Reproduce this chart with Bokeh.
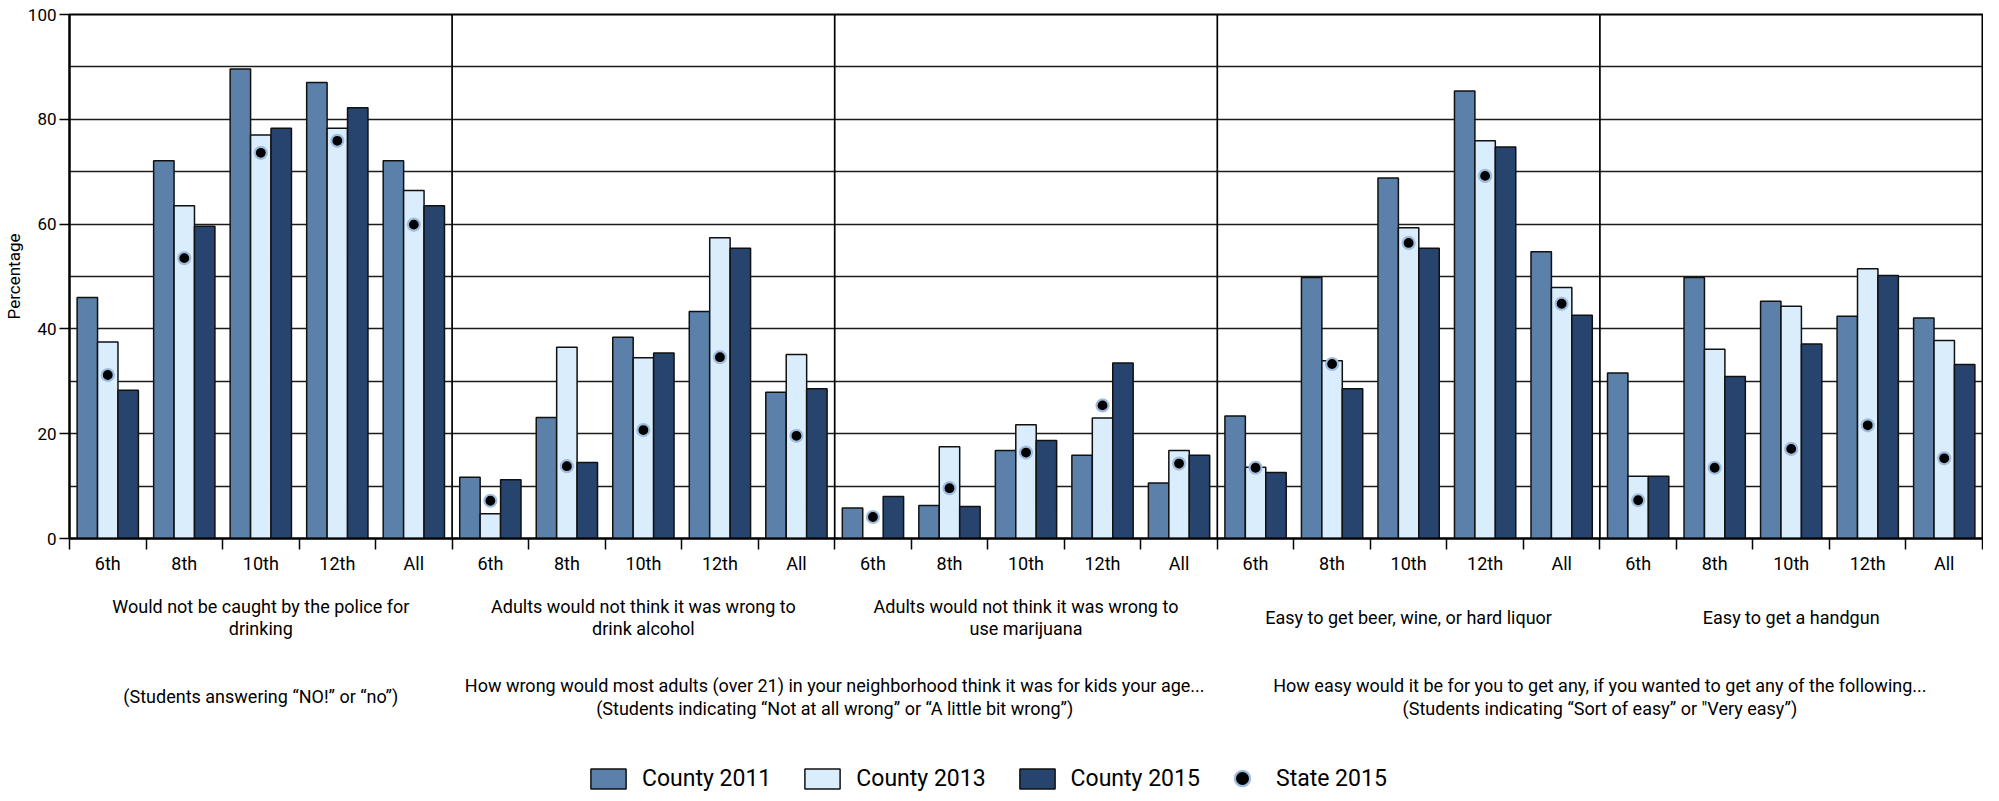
import numpy as np
from bokeh.plotting import figure
from bokeh.layouts import column
from bokeh.models import (FactorRange, ColumnDataSource, LinearAxis, CategoricalAxis, FixedTicker,
                          SingleIntervalTicker, Span, Legend, LegendItem, Range1d)
from bokeh.core.properties import value
from bokeh.transform import dodge
from bokeh.embed import file_html
from bokeh.resources import INLINE

nan = float("nan")

# ---------------- data ----------------
groups = ["police", "alcohol", "marijuana", "liquor", "handgun"]
grades = ["6th", "8th", "10th", "12th", "All"]

county_2011 = [46.0, 72.1, 89.6, 87.0, 72.1,
               11.7, 23.1, 38.4, 43.3, 27.9,
               5.8, 6.3, 16.8, 15.9, 10.6,
               23.4, 49.8, 68.8, 85.4, 54.7,
               31.6, 49.8, 45.3, 42.4, 42.1]
county_2013 = [37.5, 63.5, 77.0, 78.3, 66.4,
               4.7, 36.5, 34.5, 57.4, 35.1,
               nan, 17.5, 21.7, 23.0, 16.8,
               13.6, 33.9, 59.3, 75.9, 47.9,
               11.9, 36.1, 44.3, 51.5, 37.8]
county_2015 = [28.3, 59.6, 78.3, 82.2, 63.5,
               11.2, 14.5, 35.4, 55.4, 28.6,
               8.0, 6.1, 18.7, 33.5, 15.9,
               12.6, 28.6, 55.4, 74.7, 42.6,
               11.9, 30.9, 37.1, 50.2, 33.2]
state_2015 = [31.2, 53.5, 73.6, 75.9, 59.9,
              7.2, 13.8, 20.7, 34.6, 19.6,
              4.1, 9.6, 16.4, 25.4, 14.3,
              13.5, 33.3, 56.4, 69.2, 44.8,
              7.3, 13.5, 17.1, 21.6, 15.3]

series_labels = ["County 2011", "County 2013", "County 2015", "State 2015"]

group_titles = [
    ["Would not be caught by the police for", "drinking"],
    ["Adults would not think it was wrong to", "drink alcohol"],
    ["Adults would not think it was wrong to", "use marijuana"],
    ["Easy to get beer, wine, or hard liquor"],
    ["Easy to get a handgun"],
]
# (first group, last group, lines)
group_notes = [
    (0, 0, ["(Students answering \u201cNO!\u201d or \u201cno\u201d)"]),
    (1, 2, ["How wrong would most adults (over 21) in your neighborhood think it was for kids your age...",
            "(Students indicating \u201cNot at all wrong\u201d or \u201cA little bit wrong\u201d)"]),
    (3, 4, ["How easy would it be for you to get any, if you wanted to get any of the following...",
            "(Students indicating \u201cSort of easy\u201d or \"Very easy\u201d)"]),
]

y_label = "Percentage"

# ---------------- style ----------------
FONT = "Roboto"
C11 = "#5B80A9"
C13 = "#DAEDFC"
C15 = "#26446E"
EDGE = "#111111"
DOT_EDGE = "#9FBCDD"
W_FIG = 1983
LEFT = 65

factors = [(g, gr) for g in groups for gr in grades]
n_per = len(grades)

src = ColumnDataSource(dict(
    x=factors,
    c11=np.array(county_2011, dtype=float),
    c13=np.array(county_2013, dtype=float),
    c15=np.array(county_2015, dtype=float),
    st=np.array(state_2015, dtype=float),
))

xr = FactorRange(*factors, factor_padding=0, group_padding=0, range_padding=0)

p = figure(width=W_FIG, height=583, x_range=xr, y_range=Range1d(0, 100),
           output_backend="svg", toolbar_location=None, x_axis_location=None,
           min_border_left=LEFT, min_border_right=1, min_border_top=14, min_border_bottom=45)

p.outline_line_color = "black"
p.outline_line_width = 2
p.background_fill_color = "white"
p.border_fill_color = "white"

# y axis
yax = p.yaxis[0]
yax.ticker = SingleIntervalTicker(interval=20, num_minor_ticks=0)
yax.axis_line_color = "black"
yax.axis_line_width = 2
yax.major_tick_out = 10
yax.major_tick_in = 0
yax.major_tick_line_width = 1.5
yax.minor_tick_line_color = None
yax.major_label_standoff = 3
yax.major_label_text_font = FONT
yax.major_label_text_font_size = "17px"
yax.major_label_text_color = "black"
yax.axis_label = y_label
yax.axis_label_text_font = FONT
yax.axis_label_text_font_size = "17px"
yax.axis_label_text_font_style = "normal"
yax.axis_label_text_color = "black"
yax.axis_label_standoff = 1

p.ygrid.ticker = SingleIntervalTicker(interval=10)
p.ygrid.grid_line_color = "#1c1c1c"
p.ygrid.grid_line_width = 1.7
for g in p.xgrid:
    g.visible = False

# tick-mark axis at category boundaries
tick_axis = LinearAxis(ticker=FixedTicker(ticks=list(range(len(factors) + 1))),
                       major_label_text_font_size="0px", major_label_standoff=0,
                       major_tick_out=11, major_tick_in=0, major_tick_line_width=1.5,
                       major_tick_line_color="black", minor_tick_line_color=None,
                       axis_line_color="black", axis_line_width=2)
p.add_layout(tick_axis, "below")

cat_axis = CategoricalAxis(axis_line_color=None, major_tick_line_color=None,
                           minor_tick_line_color=None, major_label_standoff=-3,
                           major_label_text_font=FONT, major_label_text_font_size="18px",
                           major_label_text_color="black",
                           group_text_font_size="0px", group_text_color=None,
                           separator_line_color=None)
p.add_layout(cat_axis, "below")

# group separators
for i in range(1, len(groups)):
    p.add_layout(Span(location=i * n_per, dimension="height", line_color="black",
                      line_width=1.7, level="underlay"))

w = 0.267
bar_styles = [("c11", -w, C11), ("c13", 0, C13), ("c15", w, C15)]
for col, off, colr in bar_styles:
    p.vbar(x=dodge("x", off, range=xr), top=col, width=w, source=src,
           fill_color=colr, line_color=EDGE, line_width=1.5)
p.scatter(x="x", y="st", size=12, source=src, fill_color="black",
          line_color=DOT_EDGE, line_width=2.2)

# ---------------- text / legend panel below ----------------
H2 = 210
p2 = figure(width=W_FIG, height=H2, x_range=xr, y_range=Range1d(H2, 0),
            output_backend="svg", toolbar_location=None,
            x_axis_location=None, y_axis_location=None,
            min_border_left=LEFT, min_border_right=1, min_border_top=0, min_border_bottom=0)
p2.outline_line_color = None
p2.background_fill_color = "white"
p2.border_fill_color = "white"
for g in p2.grid:
    g.visible = False

tx, ty, tt = [], [], []
title_center, title_step = 34, 22
for gi, lines in enumerate(group_titles):
    cx = (gi + 0.5) * n_per
    k = len(lines)
    for li, line in enumerate(lines):
        tx.append(cx)
        ty.append(title_center + (li - (k - 1) / 2) * title_step)
        tt.append(line)
note_center, note_step = 113, 23
for g0, g1, lines in group_notes:
    cx = (g0 + g1 + 1) / 2 * n_per
    k = len(lines)
    for li, line in enumerate(lines):
        tx.append(cx)
        ty.append(note_center + (li - (k - 1) / 2) * note_step)
        tt.append(line)

p2.text(x="x", y="y", text="t", source=ColumnDataSource(dict(x=tx, y=ty, t=tt)),
        text_align="center", text_baseline="middle", text_font=value(FONT),
        text_font_size="18px", text_color="black")

# legend style carriers (not drawn; only their legend swatches are shown)
carrier = ColumnDataSource(dict(x=[factors[0]], y=[1.0]))
leg_r = []
for col, off, colr in bar_styles:
    leg_r.append(p2.vbar(x="x", top="y", width=w, source=carrier, visible=False,
                         fill_color=colr, line_color=EDGE, line_width=1.5))
dot_r = p2.scatter(x="x", y="y", size=15, source=carrier, visible=False,
                   fill_color="black", line_color=DOT_EDGE, line_width=2.2)

common = dict(orientation="horizontal", label_standoff=12, spacing=29,
              padding=0, margin=0, border_line_color=None, background_fill_alpha=0,
              inactive_fill_alpha=0, label_text_font=FONT, label_text_font_size="23px",
              label_text_color="black")
legend = Legend(items=[LegendItem(label=lab, renderers=[r]) for lab, r in zip(series_labels[:3], leg_r)],
                location=(517, 1), glyph_width=44, glyph_height=25, **common)
p2.add_layout(legend)
legend_dot = Legend(items=[LegendItem(label=series_labels[3], renderers=[dot_r])],
                    location=(1151, -4), glyph_width=44, glyph_height=38, **common)
p2.add_layout(legend_dot)

layout = column(p, p2, spacing=0)
open("out.html", "w").write(file_html(layout, INLINE))
